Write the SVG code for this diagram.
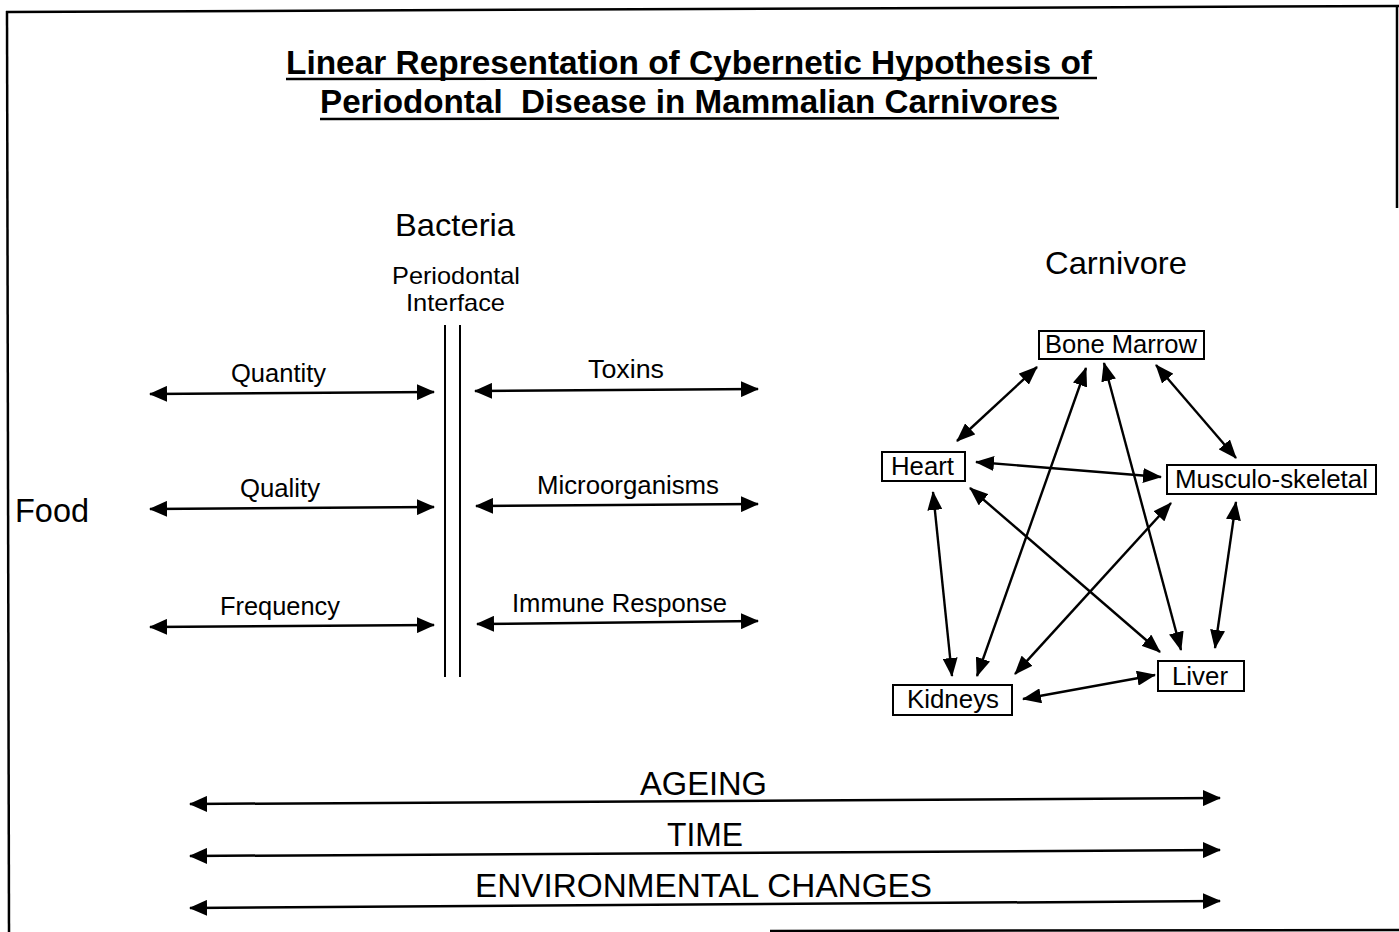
<svg xmlns="http://www.w3.org/2000/svg" width="1399" height="932" viewBox="0 0 1399 932">
<style>
  text { font-family: "Liberation Sans", Arial, sans-serif; fill: #000; }
  .title { font-size: 33px; font-weight: bold; }
  .head { font-size: 32px; }
  .sub { font-size: 24px; }
  .lbl { font-size: 26px; }
  .big { font-size: 33px; }
  .node rect { fill: #fff; stroke: #000; stroke-width: 2; }
  .node text { font-size: 25px; }
  .arr { stroke: #000; stroke-width: 2.5; fill: none; marker-start: url(#ah); marker-end: url(#ah); }
  .narr { stroke: #000; stroke-width: 2.4; fill: none; marker-start: url(#nh); marker-end: url(#nh); }
  .frame { stroke: #000; stroke-width: 2.5; fill: none; }
</style>
<defs>
  <marker id="ah" markerUnits="userSpaceOnUse" markerWidth="18" markerHeight="16" refX="17" refY="8" orient="auto-start-reverse">
    <path d="M0,0 L18,8 L0,16 z" fill="#000"/>
  </marker>
  <marker id="nh" markerUnits="userSpaceOnUse" markerWidth="19" markerHeight="15" refX="18" refY="7.5" orient="auto-start-reverse">
    <path d="M0,0 L19,7.5 L0,15 z" fill="#000"/>
  </marker>
</defs>
<rect width="1399" height="932" fill="#fff"/>

<g id="frame">
  <line class="frame" x1="6" y1="12" x2="1399" y2="6" stroke-width="3"/>
  <line class="frame" x1="7" y1="11" x2="9" y2="932"/>
  <line class="frame" x1="1397" y1="5" x2="1397" y2="208" stroke-width="1.5"/>
  <line class="frame" x1="770" y1="931" x2="1399" y2="930" stroke-width="1.5"/>
</g>

<g id="title">
  <text class="title" x="286" y="74" textLength="806" lengthAdjust="spacingAndGlyphs">Linear Representation of Cybernetic Hypothesis of</text>
  <line x1="286" y1="79" x2="1097" y2="78" stroke="#000" stroke-width="2.5"/>
  <text class="title" x="320" y="113" textLength="738" lengthAdjust="spacingAndGlyphs" xml:space="preserve">Periodontal  Disease in Mammalian Carnivores</text>
  <line x1="320" y1="119" x2="1059" y2="118" stroke="#000" stroke-width="2.5"/>
</g>

<g id="bacteria">
  <text class="head" x="395" y="236" textLength="120" lengthAdjust="spacingAndGlyphs">Bacteria</text>
  <text class="sub" x="392" y="284" textLength="128" lengthAdjust="spacingAndGlyphs">Periodontal</text>
  <text class="sub" x="406" y="311" textLength="99" lengthAdjust="spacingAndGlyphs">Interface</text>
</g>

<g id="interface">
  <line x1="445" y1="325" x2="445" y2="677" stroke="#000" stroke-width="2"/>
  <line x1="460" y1="325" x2="460" y2="677" stroke="#000" stroke-width="2"/>
</g>

<g id="food">
  <text class="big" x="15" y="522" textLength="74" lengthAdjust="spacingAndGlyphs">Food</text>
</g>

<g id="carnivore">
  <text class="head" x="1045" y="274" textLength="142" lengthAdjust="spacingAndGlyphs">Carnivore</text>
</g>

<g id="food-labels">
  <text class="lbl" x="231" y="382" textLength="95" lengthAdjust="spacingAndGlyphs">Quantity</text>
  <text class="lbl" x="240" y="497" textLength="80" lengthAdjust="spacingAndGlyphs">Quality</text>
  <text class="lbl" x="220" y="615" textLength="120" lengthAdjust="spacingAndGlyphs">Frequency</text>
</g>

<g id="bacteria-labels">
  <text class="lbl" x="588" y="378" textLength="76" lengthAdjust="spacingAndGlyphs">Toxins</text>
  <text class="lbl" x="537" y="494" textLength="182" lengthAdjust="spacingAndGlyphs">Microorganisms</text>
  <text class="lbl" x="512" y="612" textLength="215" lengthAdjust="spacingAndGlyphs">Immune Response</text>
</g>

<g id="node-bone-marrow" class="node">
  <rect x="1039" y="331" width="165" height="28"/>
  <text x="1045" y="353" textLength="152" lengthAdjust="spacingAndGlyphs">Bone Marrow</text>
</g>
<g id="node-heart" class="node">
  <rect x="882" y="452" width="83" height="29"/>
  <text x="891" y="475" textLength="63" lengthAdjust="spacingAndGlyphs">Heart</text>
</g>
<g id="node-musculo-skeletal" class="node">
  <rect x="1167" y="465" width="209" height="29"/>
  <text x="1175" y="488" textLength="193" lengthAdjust="spacingAndGlyphs">Musculo-skeletal</text>
</g>
<g id="node-kidneys" class="node">
  <rect x="893" y="685" width="119" height="30"/>
  <text x="907" y="708" textLength="92" lengthAdjust="spacingAndGlyphs">Kidneys</text>
</g>
<g id="node-liver" class="node">
  <rect x="1158" y="661" width="86" height="30"/>
  <text x="1172" y="685" textLength="56" lengthAdjust="spacingAndGlyphs">Liver</text>
</g>

<g id="connectors">
  <line class="arr" x1="150" y1="394" x2="434" y2="392"/>
  <line class="arr" x1="150" y1="509" x2="434" y2="507"/>
  <line class="arr" x1="150" y1="627" x2="434" y2="625"/>
  <line class="arr" x1="475" y1="391" x2="758" y2="389"/>
  <line class="arr" x1="476" y1="506" x2="758" y2="504"/>
  <line class="arr" x1="477" y1="624" x2="758" y2="621"/>

  <line class="narr" x1="1037" y1="367" x2="957" y2="441"/>
  <line class="narr" x1="1086" y1="368" x2="977" y2="676"/>
  <line class="narr" x1="1104" y1="363" x2="1181" y2="650"/>
  <line class="narr" x1="1156" y1="365" x2="1236" y2="458"/>
  <line class="narr" x1="976" y1="462" x2="1161" y2="477"/>
  <line class="narr" x1="970" y1="488" x2="1160" y2="652"/>
  <line class="narr" x1="933" y1="492" x2="952" y2="676"/>
  <line class="narr" x1="1171" y1="503" x2="1015" y2="674"/>
  <line class="narr" x1="1236" y1="502" x2="1215" y2="648"/>
  <line class="narr" x1="1023" y1="699" x2="1155" y2="675"/>

  <line class="arr" x1="190" y1="804" x2="1220" y2="798"/>
  <line class="arr" x1="190" y1="856" x2="1220" y2="850"/>
  <line class="arr" x1="190" y1="908" x2="1220" y2="901"/>
</g>

<g id="time-labels">
  <text class="big" x="640" y="795" textLength="127" lengthAdjust="spacingAndGlyphs">AGEING</text>
  <text class="big" x="667" y="846" textLength="76" lengthAdjust="spacingAndGlyphs">TIME</text>
  <text class="big" x="475" y="897" textLength="457" lengthAdjust="spacingAndGlyphs">ENVIRONMENTAL CHANGES</text>
</g>
</svg>
